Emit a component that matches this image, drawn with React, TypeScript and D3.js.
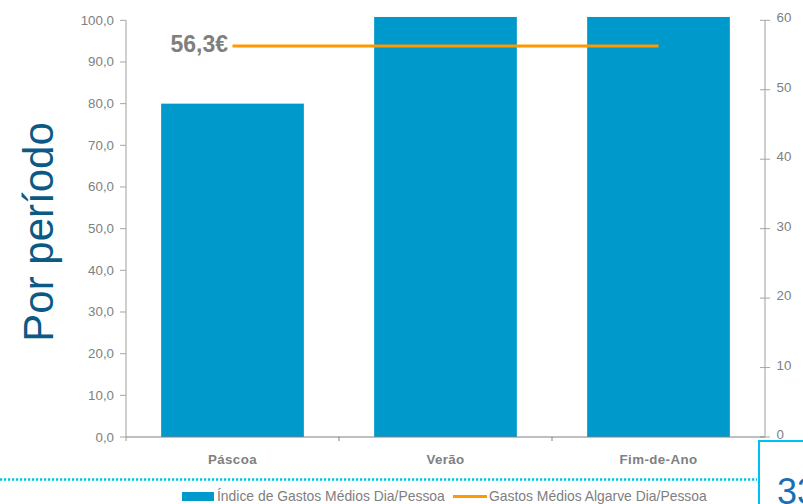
import React, { useEffect, useRef } from "react";
import * as d3 from "d3";

const categories = ["Páscoa", "Verão", "Fim-de-Ano"];
const indexValues = [80.0, 100.8, 100.8];
const spendValues = [56.3, 56.3, 56.3];
const leftTicks = [0, 10, 20, 30, 40, 50, 60, 70, 80, 90, 100];
const rightTicks = [0, 10, 20, 30, 40, 50, 60];
const barLabel = "Índice de Gastos Médios Dia/Pessoa";
const lineLabel = "Gastos Médios Algarve Dia/Pessoa";
const lineValueLabel = "56,3€";
const axisTitle = "Por período";
const pageNumber = "33";

const W = 803;
const H = 504;
const FONT = "'Liberation Sans', Arial, sans-serif";

export default function App() {
  const ref = useRef<SVGSVGElement | null>(null);

  useEffect(() => {
    const svg = d3.select(ref.current);
    svg.selectAll("*").remove();

    const left = 126, right = 765, top = 20.3, bottom = 437;
    const x = d3.scaleBand<string>().domain(categories).range([left, right]).paddingInner(0.33).paddingOuter(0.165);
    const xc = d3.scaleBand<string>().domain(categories).range([left, right]);
    const yL = d3.scaleLinear().domain([0, 100]).range([bottom, top]);
    const yR = d3.scaleLinear().domain([0, 60]).range([bottom, top]);

    // bars
    svg.append("g").selectAll("rect").data(indexValues).join("rect")
      .attr("x", (_, i) => x(categories[i])!)
      .attr("width", x.bandwidth())
      .attr("y", d => yL(d))
      .attr("height", d => bottom - yL(d))
      .attr("fill", "#0099cc");

    // left axis
    const gl = svg.append("g");
    gl.append("line").attr("x1", left).attr("x2", left).attr("y1", top).attr("y2", bottom + 4)
      .attr("stroke", "#bfbfbf").attr("stroke-width", 1.5);
    leftTicks.forEach(t => {
      gl.append("line").attr("x1", left - 6).attr("x2", left).attr("y1", yL(t)).attr("y2", yL(t))
        .attr("stroke", "#a6a6a6").attr("stroke-width", 1);
      gl.append("text").attr("x", 114).attr("y", yL(t) + 4.5).attr("text-anchor", "end")
        .attr("font-family", FONT).attr("font-size", 13.3).attr("fill", "#808080")
        .text(d3.format(".1f")(t).replace(".", ","));
    });

    // right axis
    const gr = svg.append("g");
    gr.append("line").attr("x1", right).attr("x2", right).attr("y1", top).attr("y2", bottom)
      .attr("stroke", "#bfbfbf").attr("stroke-width", 1.5);
    rightTicks.forEach(t => {
      gr.append("line").attr("x1", right - 5).attr("x2", right + 5).attr("y1", yR(t)).attr("y2", yR(t))
        .attr("stroke", "#a6a6a6").attr("stroke-width", 1);
      gr.append("text").attr("x", 776.5).attr("y", yR(t) + 2).attr("text-anchor", "start")
        .attr("font-family", FONT).attr("font-size", 13.3).attr("fill", "#808080")
        .text(String(t));
    });

    // bottom axis
    svg.append("line").attr("x1", left).attr("x2", right).attr("y1", bottom).attr("y2", bottom)
      .attr("stroke", "#808080").attr("stroke-width", 1.2);
    categories.forEach((c, i) => {
      if (i > 0) {
        const xx = xc(c)!;
        svg.append("line").attr("x1", xx).attr("x2", xx).attr("y1", bottom).attr("y2", bottom + 4)
          .attr("stroke", "#808080");
      }
      svg.append("text").attr("x", xc(c)! + xc.bandwidth() / 2).attr("y", 464)
        .attr("text-anchor", "middle").attr("font-family", FONT).attr("font-size", 13.3)
        .attr("font-weight", "bold").attr("letter-spacing", 0.4).attr("fill", "#808080").text(c);
    });

    // line
    const line = d3.line<number>()
      .x((_, i) => xc(categories[i])! + xc.bandwidth() / 2)
      .y(d => yR(d));
    svg.append("path").attr("d", line(spendValues)!).attr("fill", "none")
      .attr("stroke", "#ff9900").attr("stroke-width", 3.2);
    svg.append("text").attr("x", 228).attr("y", 52).attr("text-anchor", "end")
      .attr("font-family", FONT).attr("font-size", 23).attr("font-weight", "bold")
      .attr("fill", "#7f7f7f").text(lineValueLabel);

    // axis title
    svg.append("text").attr("transform", "translate(53,232) rotate(-90)")
      .attr("text-anchor", "middle").attr("font-family", FONT).attr("font-size", 42)
      .attr("fill", "#0b5a86").text(axisTitle);

    // dotted separator
    svg.append("line").attr("x1", 0).attr("x2", 757).attr("y1", 479.5).attr("y2", 479.5)
      .attr("stroke", "#00c0f0").attr("stroke-width", 2.5).attr("stroke-dasharray", "2.2 1.8");

    // page box
    svg.append("rect").attr("x", 759).attr("y", 441).attr("width", 60).attr("height", 80)
      .attr("fill", "#fff").attr("stroke", "#00bff3").attr("stroke-width", 2);
    svg.append("text").attr("x", 777).attr("y", 504).attr("font-family", FONT).attr("font-size", 36)
      .attr("fill", "#1a6fb5").text(pageNumber);

    // legend
    svg.append("rect").attr("x", 182).attr("y", 492).attr("width", 32).attr("height", 9).attr("fill", "#0099cc");
    svg.append("text").attr("x", 217).attr("y", 501).attr("font-family", FONT).attr("font-size", 13.9)
      .attr("fill", "#808080").text(barLabel);
    svg.append("line").attr("x1", 453).attr("x2", 487).attr("y1", 496.5).attr("y2", 496.5)
      .attr("stroke", "#ff9900").attr("stroke-width", 3);
    svg.append("text").attr("x", 489).attr("y", 501).attr("font-family", FONT).attr("font-size", 13.9)
      .attr("fill", "#808080").text(lineLabel);
  }, []);

  return (
    <div style={{ position: "absolute", left: 0, top: 0 }}>
      <svg ref={ref} width={W} height={H} style={{ display: "block", background: "#fff" }} />
    </div>
  );
}
